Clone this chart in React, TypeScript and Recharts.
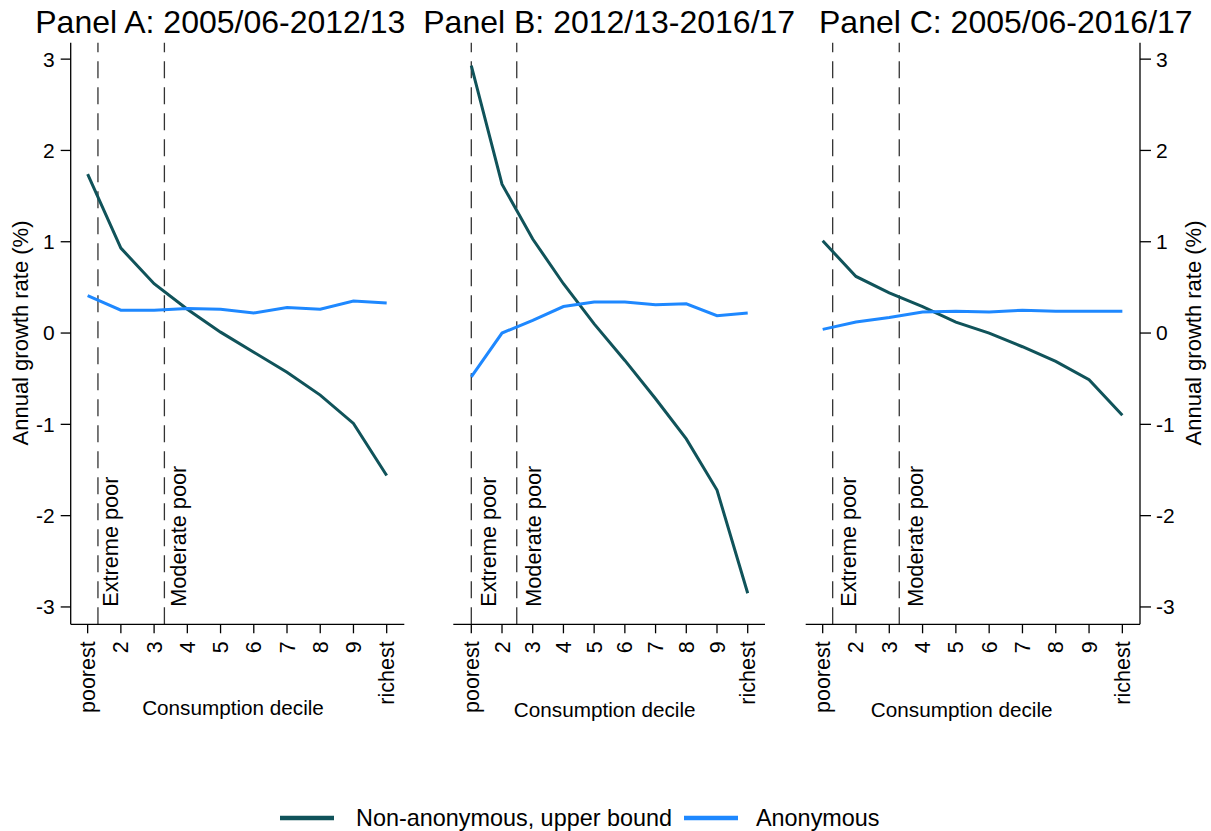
import React from 'react';
import { LineChart, Line, XAxis, YAxis, ReferenceLine } from 'recharts';

// Growth incidence by consumption decile, three periods.

const deciles = [1, 2, 3, 4, 5, 6, 7, 8, 9, 10];
const yTicks = [-3, -2, -1, 0, 1, 2, 3];

const panelANonAnon = [1.74, 0.93, 0.54, 0.26, 0.01, -0.21, -0.43, -0.68, -0.99, -1.56];
const panelAAnon = [0.41, 0.25, 0.25, 0.27, 0.26, 0.22, 0.28, 0.26, 0.35, 0.33];

const panelBNonAnon = [2.93, 1.63, 1.03, 0.54, 0.1, -0.3, -0.72, -1.16, -1.72, -2.85];
const panelBAnon = [-0.48, 0.0, 0.14, 0.29, 0.34, 0.34, 0.31, 0.32, 0.19, 0.22];

const panelCNonAnon = [1.01, 0.62, 0.44, 0.29, 0.12, 0.0, -0.15, -0.31, -0.51, -0.9];
const panelCAnon = [0.04, 0.12, 0.17, 0.23, 0.24, 0.23, 0.25, 0.24, 0.24, 0.24];

// poverty line cut-offs, in decile units
const panelALines = [1.31, 3.31];
const panelBLines = [1.0, 2.48];
const panelCLines = [1.3, 3.3];

const FONT = '"Liberation Sans", Arial, Helvetica, sans-serif';
const DARK = '#10535a';
const BLUE = '#1e88ff';
const Y_DOMAIN: [number, number] = [-3.19, 3.18];

function rows(non: number[], anon: number[]) {
  return deciles.map((d, i) => ({ decile: d, nonAnon: non[i], anon: anon[i] }));
}

function DecileTick(props: any) {
  const { x, y, payload } = props;
  const v = payload.value;
  const label = v === 1 ? 'poorest' : v === 10 ? 'richest' : String(v);
  return (
    <text x={x} y={y} transform={`rotate(-90, ${x}, ${y})`} textAnchor="end" dy="0.35em" fontSize={21.5} fill="#000" fontFamily={FONT}>
      {label}
    </text>
  );
}

function CutLabel(props: any) {
  const { viewBox, text, off } = props;
  if (!viewBox) return null;
  const x = viewBox.x + off;
  const y = viewBox.y + viewBox.height - 17.5;
  return (
    <text x={x} y={y} transform={`rotate(-90, ${x}, ${y})`} textAnchor="start" fontSize={21.7} fill="#000" fontFamily={FONT}>
      {text}
    </text>
  );
}

const axisStroke = { stroke: '#000', strokeWidth: 1.3 };

function Panel({ non, anon, cuts, offs, xDomain, yAxis, width, margin }: any) {
  return (
    <LineChart width={width} height={780} data={rows(non, anon)} margin={margin}>
      <XAxis
        type="number"
        dataKey="decile"
        domain={xDomain}
        ticks={deciles}
        interval={0}
        allowDataOverflow
        height={60}
        tickSize={9}
        tickMargin={8}
        axisLine={axisStroke}
        tickLine={axisStroke}
        tick={<DecileTick />}
      />
      <YAxis
        domain={Y_DOMAIN}
        ticks={yTicks}
        allowDataOverflow
        hide={yAxis === 'none'}
        orientation={yAxis === 'right' ? 'right' : 'left'}
        width={60}
        tickSize={yAxis === 'right' ? 11 : 10}
        tickMargin={yAxis === 'right' ? 5 : 6}
        axisLine={axisStroke}
        tickLine={axisStroke}
        tick={{ fill: '#000', fontSize: 21, fontFamily: FONT }}
      />
      <ReferenceLine x={cuts[0]} stroke="#333" strokeWidth={1.3} strokeDasharray="17 9" label={<CutLabel text="Extreme poor" off={offs[0]} />} />
      <ReferenceLine x={cuts[1]} stroke="#333" strokeWidth={1.3} strokeDasharray="17 9" label={<CutLabel text="Moderate poor" off={offs[1]} />} />
      <Line type="linear" dataKey="nonAnon" stroke={DARK} strokeWidth={3} dot={false} isAnimationActive={false} />
      <Line type="linear" dataKey="anon" stroke={BLUE} strokeWidth={3} dot={false} isAnimationActive={false} />
    </LineChart>
  );
}

export default function App() {
  return (
    <div style={{ position: 'absolute', left: 0, top: 0, width: 1211, height: 831, background: '#fff', fontFamily: FONT, overflow: 'hidden' }}>
      <div style={{ position: 'absolute', left: 0, top: 0 }}>
        <Panel
          non={panelANonAnon}
          anon={panelAAnon}
          cuts={panelALines}
          offs={[20.5, 21.7]}
          xDomain={[0.49, 10.53]}
          yAxis="left"
          width={420}
          margin={{ top: 42.7, right: 15.7, left: 10.7, bottom: 95.7 }}
        />
      </div>
      <div style={{ position: 'absolute', left: 420, top: 0 }}>
        <Panel
          non={panelBNonAnon}
          anon={panelBAnon}
          cuts={panelBLines}
          offs={[24.3, 24.3]}
          xDomain={[0.414, 10.563]}
          yAxis="none"
          width={380}
          margin={{ top: 42.7, right: 35, left: 33.3, bottom: 95.7 }}
        />
      </div>
      <div style={{ position: 'absolute', left: 790, top: 0 }}>
        <Panel
          non={panelCNonAnon}
          anon={panelCAnon}
          cuts={panelCLines}
          offs={[23.3, 23.4]}
          xDomain={[0.49, 10.53]}
          yAxis="right"
          width={421}
          margin={{ top: 42.7, right: 11, left: 15.7, bottom: 95.7 }}
        />
      </div>
      <svg width={1211} height={831} style={{ position: 'absolute', left: 0, top: 0, pointerEvents: 'none' }} fontFamily={FONT}>
        <text x={220.3} y={33} textAnchor="middle" fontSize={32} fill="#000">Panel A: 2005/06-2012/13</text>
        <text x={609.2} y={33} textAnchor="middle" fontSize={32} fill="#000">Panel B: 2012/13-2016/17</text>
        <text x={1005.8} y={33} textAnchor="middle" fontSize={32} fill="#000">Panel C: 2005/06-2016/17</text>

        <text x={28} y={333} transform="rotate(-90, 28, 333)" textAnchor="middle" fontSize={22} fill="#000">Annual growth rate (%)</text>
        <text x={1201} y={333} transform="rotate(-90, 1201, 333)" textAnchor="middle" fontSize={22} fill="#000">Annual growth rate (%)</text>

        <text x={233} y={715} textAnchor="middle" fontSize={20.7} fill="#000">Consumption decile</text>
        <text x={604.7} y={717} textAnchor="middle" fontSize={20.7} fill="#000">Consumption decile</text>
        <text x={961.7} y={717} textAnchor="middle" fontSize={20.7} fill="#000">Consumption decile</text>

        <line x1={280} x2={334} y1={818} y2={818} stroke={DARK} strokeWidth={4.5} />
        <text x={356} y={826} fontSize={23.4} fill="#000">Non-anonymous, upper bound</text>
        <line x1={684} x2={738} y1={818} y2={818} stroke={BLUE} strokeWidth={4.5} />
        <text x={756} y={826} fontSize={23.4} fill="#000">Anonymous</text>
      </svg>
    </div>
  );
}
